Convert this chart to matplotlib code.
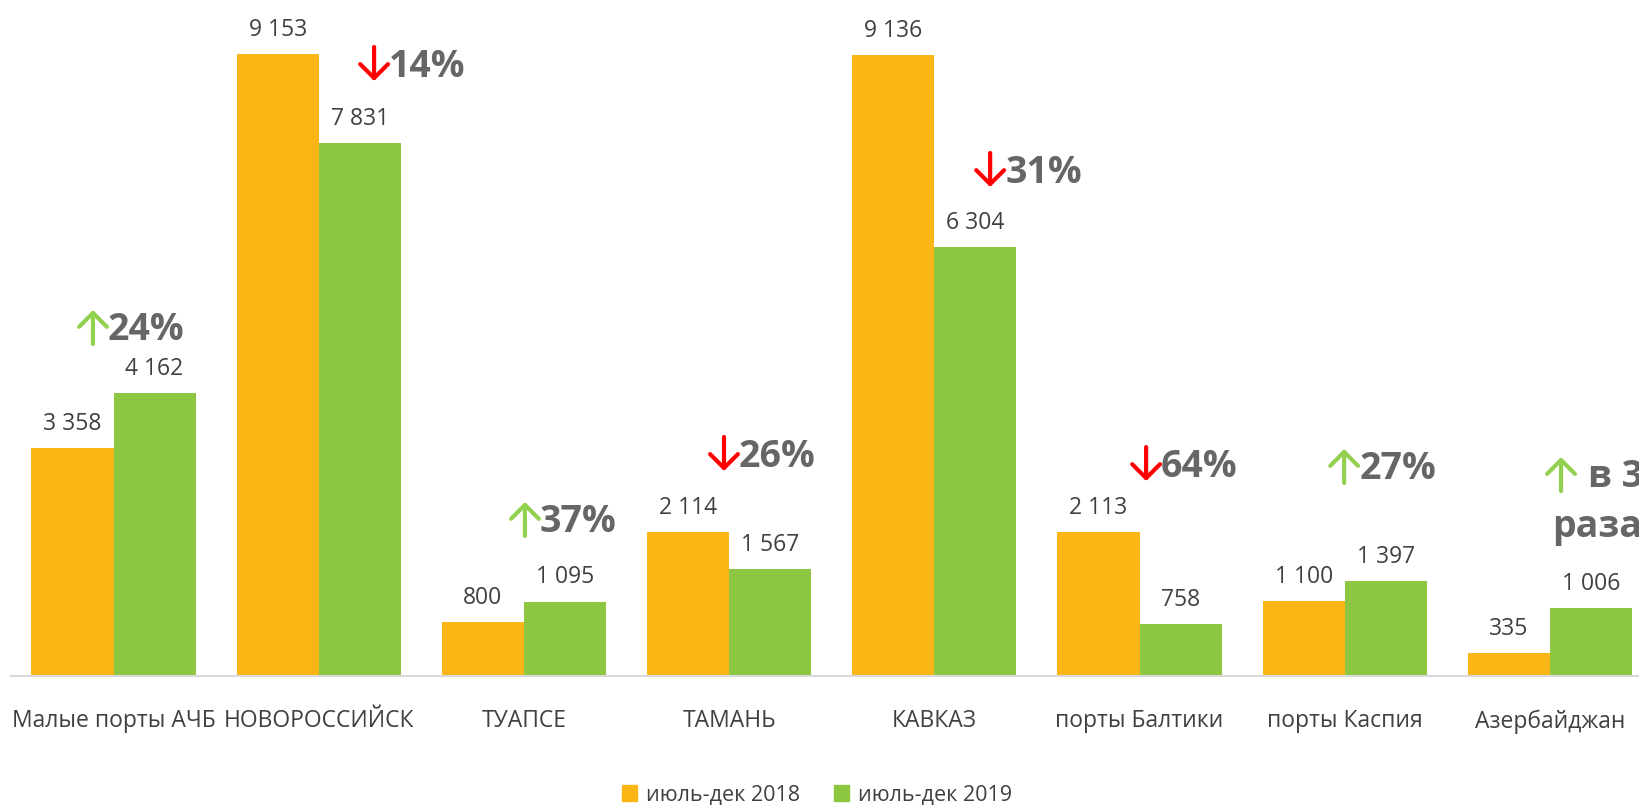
import matplotlib
matplotlib.use("Agg")
import matplotlib.pyplot as plt
import numpy as np
from matplotlib.patches import Patch
from matplotlib.transforms import offset_copy

plt.rcParams['font.family'] = ['Open Sans', 'DejaVu Sans']

categories = ["Малые порты АЧБ", "НОВОРОССИЙСК", "ТУАПСЕ", "ТАМАНЬ",
              "КАВКАЗ", "порты Балтики", "порты Каспия", "Азербайджан"]
vals_2018 = [3358, 9153, 800, 2114, 9136, 2113, 1100, 335]
vals_2019 = [4162, 7831, 1095, 1567, 6304, 758, 1397, 1006]
series_names = ["июль-дек 2018", "июль-дек 2019"]

# change labels: text, direction, anchor (x in group units, y baseline in data units)
pct_text = ["24%", "14%", "37%", "26%", "31%", "64%", "27%"]
pct_up = [True, False, True, False, False, False, True]
pct_x = [-0.027, 1.343, 2.078, 3.048, 4.345, 5.105, 6.070]
pct_y = [4941, 8809, 2118, 3074, 7250, 2926, 2897]

ORANGE = "#FBB515"
GREEN = "#8DC641"
UP = "#92D050"
DOWN = "#FF0000"
TXT = "#404040"
PCT = "#666666"


def fmt(v):
    return f"{v:,}".replace(",", " ")


fig = plt.figure(figsize=(16.4, 8.05), dpi=100)
ax = fig.add_axes([10.9 / 1640, 129 / 805, 1641.7 / 1640, 676 / 805])
ax.set_xlim(-0.5, 7.5)
ax.set_ylim(0, 676 / 0.068)

x = np.arange(len(categories))
w = 0.4
b1 = ax.bar(x - w / 2, vals_2018, w, color=ORANGE)
b2 = ax.bar(x + w / 2, vals_2019, w, color=GREEN)

for bars, vals in ((b1, vals_2018), (b2, vals_2019)):
    for r, v in zip(bars, vals):
        ax.annotate(fmt(v), (r.get_x() + r.get_width() / 2, r.get_height()),
                    xytext=(0, 13), textcoords="offset points",
                    ha="center", va="baseline", fontsize=16.5, color=TXT)


def arrow(xd, yd, up, dx_px):
    """Draw a thin up/down arrow just left of the text baseline point (xd, yd)."""
    c = UP if up else DOWN
    top = offset_copy(ax.transData, fig=fig, x=dx_px, y=30, units="dots")
    bot = offset_copy(ax.transData, fig=fig, x=dx_px, y=-4, units="dots")
    head, tail = (top, bot) if up else (bot, top)
    ax.annotate("", xy=(xd, yd), xycoords=head, xytext=(xd, yd), textcoords=tail,
                arrowprops=dict(arrowstyle="->,head_width=0.5,head_length=0.5",
                                mutation_scale=20, lw=3, color=c,
                                shrinkA=0, shrinkB=0))


for t, up, px, py in zip(pct_text, pct_up, pct_x, pct_y):
    ax.text(px, py, t, ha="left", va="baseline", fontsize=27,
            fontweight="bold", color=PCT)
    arrow(px, py, up, -15)

# Azerbaijan: two-line label (cut at the right edge, as in the original)
arrow(7.122, 2779, True, -14)
ax.text(7.186, 2779, "в 3", ha="left", va="baseline", fontsize=27,
        fontweight="bold", color=PCT, clip_on=False)
ax.text(7.23, 2044, "раза", ha="center", va="baseline", fontsize=27,
        fontweight="bold", color=PCT)

ax.set_xticks(x)
ax.set_xticklabels(categories, fontsize=16.5, color=TXT)
ax.tick_params(axis="x", length=0, pad=24)
ax.set_yticks([])
for s in ("top", "right", "left"):
    ax.spines[s].set_visible(False)
ax.spines["bottom"].set_color("#D9D9D9")
ax.spines["bottom"].set_linewidth(1.5)

handles = [Patch(color=ORANGE), Patch(color=GREEN)]
fig.legend(handles, series_names, loc="center", bbox_to_anchor=(817 / 1640, 10 / 805),
           ncol=2, frameon=False, fontsize=15.5, labelcolor=TXT,
           handlelength=0.7, handleheight=0.7, handletextpad=0.4, columnspacing=1.6)

fig.savefig("out.png", dpi=100)
